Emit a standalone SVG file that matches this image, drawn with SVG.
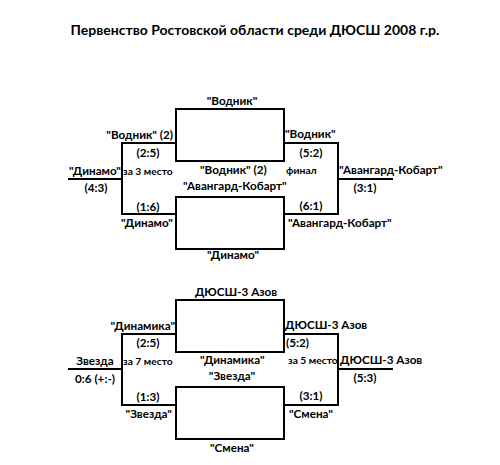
<svg xmlns="http://www.w3.org/2000/svg" width="500" height="465" viewBox="0 0 500 465">
<style>
text{font-family:Lato,"Liberation Sans","DejaVu Sans",sans-serif;font-weight:bold;fill:#000}
.t{font-size:14px}
.l{font-size:11.7px}
.s{font-size:10.3px}
.ln{stroke:#000;stroke-width:2;fill:none}
</style>
<rect width="500" height="465" fill="#fff"/>
<text class="t" x="255" y="35" text-anchor="middle">Первенство Ростовской области среди ДЮСШ 2008 г.р.</text>
<g id="connectors">
<path class="ln" d="M176,109H284V161H176Z"/>
<path class="ln" d="M176,197H284V249H176Z"/>
<path class="ln" d="M176,143H122V214H176M122,179H68"/>
<path class="ln" d="M284,143H338V214H284M338,179H393"/>
<path class="ln" d="M176,300H284V352H176Z"/>
<path class="ln" d="M176,387H284V439H176Z"/>
<path class="ln" d="M176,334H122V405H176M122,369H68"/>
<path class="ln" d="M284,334H338V405H284M338,369H393"/>
</g>
<g id="upper-semifinal-1"><text class="l" x="232" y="105" text-anchor="middle">"Водник"</text><text class="l" x="200" y="174">"Водник" (2)</text></g>
<g id="upper-semifinal-2"><text class="l" x="183" y="190">"Авангард-Кобарт"</text><text class="l" x="233" y="259" text-anchor="middle">"Динамо"</text></g>
<g id="third-place"><text class="l" x="173" y="139" text-anchor="end">"Водник" (2)</text><text class="l" x="148" y="157" text-anchor="middle">(2:5)</text><text class="s" x="123" y="175">за 3 место</text><text class="l" x="148" y="211" text-anchor="middle">(1:6)</text><text class="l" x="173" y="227" text-anchor="end">"Динамо"</text><text class="l" x="121" y="175" text-anchor="end">"Динамо"</text><text class="l" x="96" y="192" text-anchor="middle">(4:3)</text></g>
<g id="final"><text class="l" x="285" y="138">"Водник"</text><text class="l" x="311" y="157" text-anchor="middle">(5:2)</text><text class="s" x="286" y="174">финал</text><text class="l" x="311" y="210" text-anchor="middle">(6:1)</text><text class="l" x="288" y="227">"Авангард-Кобарт"</text><text class="l" x="339" y="174">"Авангард-Кобарт"</text><text class="l" x="365" y="192" text-anchor="middle">(3:1)</text></g>
<g id="lower-semifinal-1"><text class="l" x="236" y="296" text-anchor="middle">ДЮСШ-3 Азов</text><text class="l" x="200" y="364">"Динамика"</text></g>
<g id="lower-semifinal-2"><text class="l" x="232" y="380" text-anchor="middle">"Звезда"</text><text class="l" x="232" y="452" text-anchor="middle">"Смена"</text></g>
<g id="seventh-place"><text class="l" x="175" y="330" text-anchor="end">"Динамика"</text><text class="l" x="148" y="347" text-anchor="middle">(2:5)</text><text class="s" x="123" y="365">за 7 место</text><text class="l" x="148" y="401" text-anchor="middle">(1:3)</text><text class="l" x="172" y="418" text-anchor="end">"Звезда"</text><text class="l" x="95" y="365" text-anchor="middle">Звезда</text><text class="l" x="95" y="383" text-anchor="middle">0:6 (+:-)</text></g>
<g id="fifth-place"><text class="l" x="285" y="329">ДЮСШ-3 Азов</text><text class="l" x="286" y="347">(5:2)</text><text class="s" x="288" y="364">за 5 место</text><text class="l" x="311" y="400" text-anchor="middle">(3:1)</text><text class="l" x="289" y="418">"Смена"</text><text class="l" x="340" y="364">ДЮСШ-3 Азов</text><text class="l" x="365" y="382" text-anchor="middle">(5:3)</text></g>
</svg>
